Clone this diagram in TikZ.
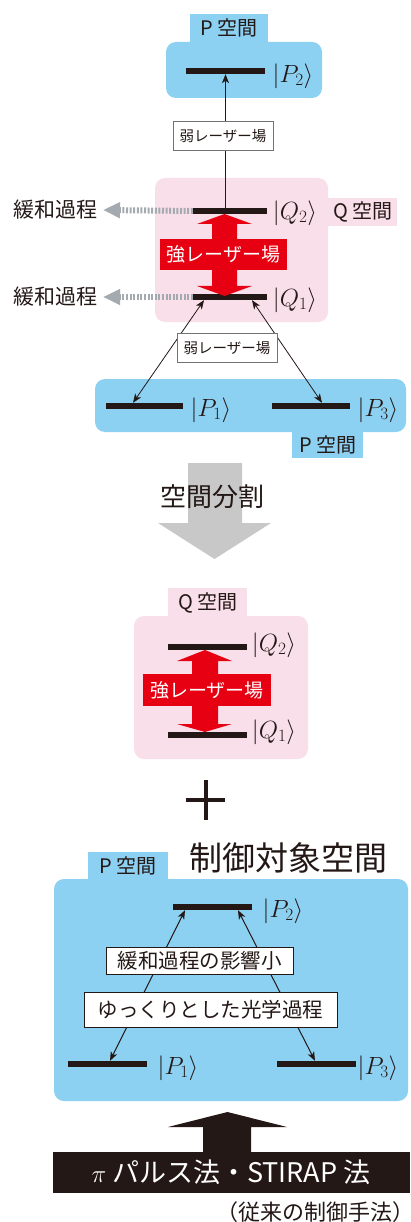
\documentclass[tikz,border=0pt]{standalone}
\usepackage{fontspec}
\newfontfamily\jp{Noto Sans CJK JP}
\usetikzlibrary{arrows.meta}
\definecolor{pblue}{RGB}{140,208,242}
\definecolor{qpink}{RGB}{249,223,234}
\definecolor{lred}{RGB}{230,0,18}
\definecolor{ink}{RGB}{35,24,21}
\definecolor{relaxgray}{RGB}{165,170,176}
\definecolor{splitgray}{RGB}{200,200,200}
\newcommand{\myket}[2]{$\bigl|#1_{#2}\bigr\rangle$}
\begin{document}
\begin{tikzpicture}[x=1pt,y=-1pt,
  lvl/.style={fill=ink, inner sep=0pt, minimum height=6pt, minimum width=#1},
  ket/.style={font=\fontsize{23}{32}\selectfont, text=ink, inner sep=0pt},
  pregion/.style={fill=pblue, rounded corners=10pt},
  qregion/.style={fill=qpink, rounded corners=10pt},
  tabtext/.style={font=\jp\fontsize{20}{24}\selectfont, text=ink, inner sep=0pt},
  thinarr/.style={draw=ink, line width=0.8pt, -{Stealth[length=9pt,width=7pt,inset=2.5pt]}},
  dblarr/.style={draw=ink, line width=0.8pt, {Stealth[length=9pt,width=7pt,inset=2.5pt]}-{Stealth[length=9pt,width=7pt,inset=2.5pt]}},
  weakbox/.style={draw=black!55, line width=0.6pt, fill=white, font=\jp\fontsize{14.5}{16}\selectfont, text=ink, inner sep=0pt, minimum width=100pt, minimum height=29pt},
  redbox/.style={fill=lred, text=white, font=\jp\fontsize{19}{22}\selectfont, inner sep=0pt},
  relax/.style={draw=relaxgray, line width=6pt, dash pattern=on 2pt off 1.6pt, -{Triangle[length=17pt,width=15pt]}},
  relaxtext/.style={font=\jp\fontsize{21}{24}\selectfont, text=ink, inner sep=0pt},
  notebox/.style={draw=ink, line width=0.7pt, fill=white, font=\jp\fontsize{20.5}{24}\selectfont, text=ink, inner sep=0pt}
]
\useasboundingbox (0,0) rectangle (410,1222);
\fill[white] (0,0) rectangle (410,1222);

% ===== top part =====
\fill[pblue] (190,14) rectangle (268,50);
\fill[pregion] (166,42) rectangle (322,98);
\node[tabtext] (ptab1) at (229,28) {P 空間};
\node[lvl=79pt] (p2) at (225.5,71) {};
\node[ket] (kp2) at (293,76) {\myket{P}{2}};

\fill[qregion] (155,178) rectangle (328,322);
\fill[qpink] (320,198) rectangle (397,226);
\node[tabtext] (qtab1) at (363,212) {Q 空間};
\node[lvl=74pt] (q2) at (230,211) {};
\node[lvl=74pt] (q1) at (230,297) {};
\node[ket] (kq2) at (295,213) {\myket{Q}{2}};
\node[ket] (kq1) at (295,300) {\myket{Q}{1}};

% strong laser double arrow
\fill[lred] (224.5,214) -- (252,224) -- (237,224) -- (237,286) -- (252,286) -- (224.5,296) -- (197,286) -- (212,286) -- (212,224) -- (197,224) -- cycle;
\node[redbox, minimum width=127pt, minimum height=31pt] (strong1) at (223.5,254.5) {強レーザー場};

% relaxation
\node[relaxtext] (r2) at (55,210) {緩和過程};
\node[relaxtext] (r1) at (55,297) {緩和過程};
\coordinate (r2tip) at (103,210);
\coordinate (r1tip) at (103,297);
\draw[relax] (q2.west) -- (r2tip);
\draw[relax] (q1.west) -- (r1tip);

% P1 / P3
\fill[pblue] (292,425) rectangle (363,458);
\fill[pregion] (95,379) rectangle (406,432);
\node[tabtext] (ptab2) at (328,445) {P 空間};
\node[lvl=77pt] (p1) at (144.5,406) {};
\node[lvl=78pt] (p3) at (311,406) {};
\node[ket] (kp1) at (211,410) {\myket{P}{1}};
\node[ket] (kp3) at (378,410) {\myket{P}{3}};

% weak laser couplings
\draw[thinarr] (q2.north -| p2.south) -- (p2.south);
\draw[dblarr] ([xshift=-26pt]q1.south) -- ([xshift=-11.5pt]p1.north);
\draw[dblarr] ([xshift=22pt]q1.south) -- ([xshift=11pt]p3.north);
\node[weakbox] (w1) at (223,136) {弱レーザー場};
\node[weakbox] (w2) at (227,348) {弱レーザー場};

% ===== split arrow =====
\fill[splitgray] (188,463) -- (242,463) -- (242,523) -- (271,523) -- (214.5,559) -- (158,523) -- (188,523) -- cycle;
\node[font=\jp\fontsize{26}{30}\selectfont, text=ink, inner sep=0pt] (split) at (212,497) {空間分割};

% ===== Q space alone =====
\fill[qpink] (168,588) rectangle (247,620);
\fill[qregion] (134,616) rectangle (308,759);
\node[tabtext] (qtab2) at (208,603) {Q 空間};
\node[lvl=79pt] (q2b) at (207.5,647) {};
\node[lvl=79pt] (q1b) at (207.5,735) {};
\node[ket] (kq2b) at (274,645) {\myket{Q}{2}};
\node[ket] (kq1b) at (274,732) {\myket{Q}{1}};
\fill[lred] (205,650) -- (232,661) -- (218,661) -- (218,724) -- (232,724) -- (205,732) -- (177,724) -- (192,724) -- (192,661) -- (177,661) -- cycle;
\node[redbox, minimum width=128pt, minimum height=32pt] (strong2) at (207,690) {強レーザー場};

% plus
\draw[ink, line width=4pt] (186,800) -- (225,800);
\draw[ink, line width=4pt] (205.5,780) -- (205.5,820);

% ===== controlled P space =====
\fill[pblue] (88,852) rectangle (168,886);
\fill[pregion] (54,879) rectangle (408,1101);
\node[tabtext] (ptab3) at (128,866) {P 空間};
\node[font=\jp\fontsize{33}{36}\selectfont, text=ink, inner sep=0pt] (target) at (288,858) {制御対象空間};
\node[lvl=79pt] (p2c) at (212.5,907) {};
\node[lvl=79pt] (p1c) at (107.5,1064) {};
\node[lvl=79pt] (p3c) at (316.5,1064) {};
\node[ket] (kp2c) at (283,911) {\myket{P}{2}};
\node[ket] (kp1c) at (178,1068) {\myket{P}{1}};
\node[ket] (kp3c) at (378,1068) {\myket{P}{3}};
\draw[dblarr, line width=1pt] ([xshift=-27.5pt]p2c.south) -- ([xshift=2.5pt]p1c.north);
\draw[dblarr, line width=1pt] ([xshift=25.5pt]p2c.south) -- ([xshift=-1.5pt]p3c.north);
\node[notebox, minimum width=187pt, minimum height=27pt] (slow1) at (199.5,960.5) {緩和過程の影響小};
\node[notebox, minimum width=253pt, minimum height=35pt] (slow2) at (210.5,1009.5) {ゆっくりとした光学過程};

% ===== conventional method =====
\fill[ink] (203,1155) -- (203,1127) -- (168,1127) -- (227.5,1112) -- (287,1127) -- (251,1127) -- (251,1155) -- cycle;
\fill[ink] (53,1152) rectangle (410,1193);
\node[font=\jp\fontsize{27}{30}\selectfont, text=white, inner sep=0pt] (method) at (231,1172.5) {$\pi$ パルス法・STIRAP 法};
\node[font=\jp\fontsize{22}{26}\selectfont, text=ink, inner sep=0pt, anchor=west] (conv) at (216,1212) {（従来の制御手法）};
\end{tikzpicture}
\end{document}
